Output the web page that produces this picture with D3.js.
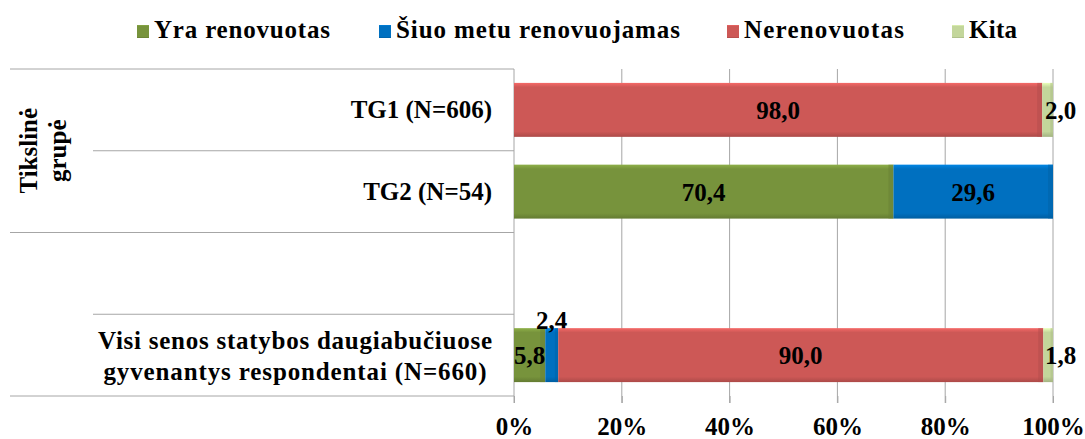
<!DOCTYPE html>
<html>
<head>
<meta charset="utf-8">
<script src="https://cdn.jsdelivr.net/npm/d3@7"></script>
<style>
  body { margin: 0; background: #fff; }
  svg text { font-family: 'Liberation Serif', 'Times New Roman', serif; font-weight: bold; fill: #000; }
</style>
</head>
<body>
<div id="chart"></div>
<script>
// categories, top to bottom ('' is the empty spacer row)
const categories = ['TG1 (N=606)', 'TG2 (N=54)', '', 'Visi senos statybos daugiabučiuose\ngyvenantys respondentai (N=660)'];
const seriesNames = ['Yra renovuotas', 'Šiuo metu renovuojamas', 'Nerenovuotas', 'Kita'];
const renovuotas   = [0, 70.4, null, 5.8];
const renovuojamas = [0, 29.6, null, 2.4];
const nerenovuotas = [98.0, 0, null, 90.0];
const kita         = [2.0, 0, null, 1.8];
const xTicks = [0, 20, 40, 60, 80, 100];
const groupLabel = ['Tikslinė', 'grupė'];

(function() {
  'use strict';

  const width = 1085, height = 439,
        colors = ['#77933C', '#0070C0', '#CD5856', '#C3D69B'],
        series = [renovuotas, renovuojamas, nerenovuotas, kita],
        plotTop = 69, plotBottom = 396, plotLeft = 514, plotRight = 1053,
        fontSize = '25px',
        serif = "'Liberation Serif', 'Times New Roman', serif";

  const svg = d3.select('#chart').append('svg')
    .attr('width', width)
    .attr('height', height);

  // bevel-ish gradients
  const defs = svg.append('defs');
  colors.forEach((c, i) => {
    const g = defs.append('linearGradient')
      .attr('id', 'grad' + i)
      .attr('x1', 0).attr('y1', 0).attr('x2', 0).attr('y2', 1);
    const light = d3.color(c).brighter(0.5), dark = d3.color(c).darker(0.5);
    g.append('stop').attr('offset', '0%').attr('stop-color', light);
    g.append('stop').attr('offset', '8%').attr('stop-color', c);
    g.append('stop').attr('offset', '90%').attr('stop-color', c);
    g.append('stop').attr('offset', '100%').attr('stop-color', dark);
  });

  const x = d3.scaleLinear().domain([0, 100]).range([plotLeft, plotRight]);
  const y = d3.scaleBand().domain(d3.range(categories.length))
    .range([plotTop, plotBottom]).paddingInner(0.34).paddingOuter(0.17);
  const band = d3.scaleBand().domain(d3.range(categories.length)).range([plotTop, plotBottom]);

  // gridlines
  svg.append('g')
    .selectAll('line')
    .data(xTicks.slice(1))
    .enter().append('line')
    .attr('x1', d => x(d)).attr('x2', d => x(d))
    .attr('y1', plotTop).attr('y2', plotBottom + 7)
    .attr('stroke', '#A6A6A6').attr('stroke-width', 1);

  // x axis
  const xAxis = svg.append('g')
    .attr('transform', `translate(0,${plotBottom})`)
    .call(d3.axisBottom(x).tickValues(xTicks).tickSize(7).tickFormat(d => d + '%'));
  xAxis.attr('font-family', serif).attr('font-size', 25);
  xAxis.select('.domain').remove();
  xAxis.selectAll('line').attr('stroke', '#A6A6A6');
  xAxis.selectAll('text')
    .attr('y', 39).attr('dy', 0)
    .attr('fill', '#000');

  // y axis frame: band boundary lines
  const boundaries = d3.range(categories.length + 1);
  svg.append('g')
    .selectAll('line')
    .data(boundaries)
    .enter().append('line')
    .attr('x1', d => (d === 1 || d === 3) ? 93 : 10)
    .attr('x2', plotLeft)
    .attr('y1', d => d < categories.length ? band(d) : plotBottom)
    .attr('y2', d => d < categories.length ? band(d) : plotBottom)
    .attr('stroke', '#A6A6A6');
  svg.append('line')
    .attr('x1', plotLeft).attr('x2', plotLeft)
    .attr('y1', plotTop).attr('y2', plotBottom + 7)
    .attr('stroke', '#A6A6A6');

  // category labels
  categories.forEach((cat, i) => {
    if (!cat) return;
    const lines = cat.split('\n');
    const cy = band(i) + band.bandwidth() / 2;
    lines.forEach((ln, j) => {
      const t = svg.append('text')
        .attr('font-family', serif)
        .style('font-size', fontSize)
        .text(ln);
      if (lines.length > 1) {
        t.attr('x', 295).attr('text-anchor', 'middle')
          .attr('y', cy + 9 + (j - 0.5) * 31)
          .attr('textLength', j === 0 ? 394 : 383)
          .attr('lengthAdjust', 'spacing');
      } else {
        t.attr('x', 492).attr('text-anchor', 'end')
          .attr('y', cy + 8);
      }
    });
  });

  // group label
  const gl = svg.append('text')
    .attr('font-family', serif)
    .attr('transform', `translate(0,${band(0) + band.bandwidth()}) rotate(-90)`)
    .attr('text-anchor', 'middle')
    .style('font-size', fontSize);
  groupLabel.forEach((ln, j) => {
    gl.append('tspan').attr('x', 0).attr('y', 37 + j * 29).text(ln);
  });

  // stacked bars
  categories.forEach((cat, i) => {
    if (!cat) return;
    let acc = 0;
    series.forEach((s, k) => {
      const v = s[i];
      if (!v) return;
      const x0 = x(acc), x1 = x(acc + v);
      acc += v;
      svg.append('rect')
        .attr('x', x0).attr('y', y(i))
        .attr('width', x1 - x0).attr('height', y.bandwidth())
        .attr('fill', `url(#grad${k})`);
      // side bevel
      const bw = Math.min(5, (x1 - x0) / 4);
      svg.append('rect')
        .attr('x', x1 - bw).attr('y', y(i))
        .attr('width', bw).attr('height', y.bandwidth())
        .attr('fill', d3.color(colors[k]).darker(0.4)).attr('opacity', 0.5);

      // value label
      const label = v.toFixed(1).replace('.', ',');
      let lx = (x0 + x1) / 2, ly = y(i) + y.bandwidth() / 2 + 9, anchor = 'middle';
      if (k === 3) { lx = x1 - 8; anchor = 'start'; }
      else if (x1 - x0 < 20) { ly = y(i) + 1; }
      svg.append('text')
        .attr('font-family', serif)
        .attr('x', lx).attr('y', ly)
        .attr('text-anchor', anchor)
        .style('font-size', fontSize)
        .text(label);
    });
  });

  // legend
  const legendX = [137, 379, 727, 952];
  const legendW = [176, 284, 160, 48];
  const lg = svg.append('g');
  seriesNames.forEach((name, k) => {
    lg.append('rect')
      .attr('x', legendX[k]).attr('y', 25)
      .attr('width', 12).attr('height', 13)
      .attr('fill', `url(#grad${k})`);
    lg.append('text')
      .attr('font-family', serif)
      .attr('x', legendX[k] + 17).attr('y', 38)
      .attr('textLength', legendW[k])
      .attr('lengthAdjust', 'spacing')
      .style('font-size', fontSize)
      .text(name);
  });
})();
</script>
</body>
</html>
